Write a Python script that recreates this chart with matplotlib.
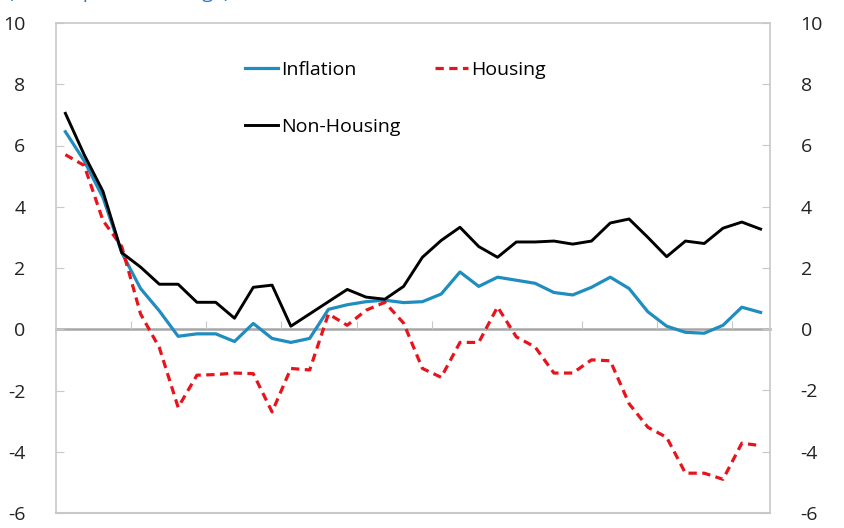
import matplotlib
matplotlib.use('Agg')
import matplotlib.pyplot as plt
import numpy as np

plt.rcParams['font.family'] = ['Open Sans', 'DejaVu Sans']
plt.rcParams['font.size'] = 14
plt.rcParams['axes.unicode_minus'] = False

# quarterly observations, 38 periods
inflation = [6.45, 5.5, 4.3, 2.5, 1.33, 0.6, -0.23, -0.15, -0.15, -0.4,
             0.19, -0.3, -0.43, -0.3, 0.65, 0.8, 0.9, 0.95, 0.87, 0.9,
             1.15, 1.87, 1.4, 1.7, 1.6, 1.5, 1.2, 1.12, 1.37, 1.7,
             1.33, 0.57, 0.1, -0.1, -0.13, 0.13, 0.72, 0.55]
housing = [5.7, 5.35, 3.55, 2.7, 0.5, -0.6, -2.55, -1.5, -1.48, -1.43,
           -1.45, -2.7, -1.28, -1.33, 0.5, 0.13, 0.62, 0.88, 0.2, -1.28,
           -1.57, -0.43, -0.43, 0.73, -0.25, -0.58, -1.43, -1.43, -1.0, -1.03,
           -2.43, -3.2, -3.53, -4.7, -4.7, -4.9, -3.72, -3.8]
non_housing = [7.05, 5.7, 4.5, 2.5, 2.03, 1.47, 1.47, 0.88, 0.88, 0.36,
               1.37, 1.44, 0.1, 0.5, 0.9, 1.3, 1.05, 0.98, 1.4, 2.35,
               2.9, 3.33, 2.7, 2.35, 2.85, 2.85, 2.88, 2.78, 2.88, 3.47,
               3.6, 3.0, 2.37, 2.88, 2.8, 3.3, 3.5, 3.27]

yticks = [-6, -4, -2, 0, 2, 4, 6, 8, 10]

x = np.arange(len(inflation))
grey = '#c8c8c8'

fig = plt.figure(figsize=(8.45, 5.28), dpi=100)
ax = fig.add_axes([56 / 845, 1 - 513 / 528, 714 / 845, 490 / 528])

l_inf, = ax.plot(x, inflation, color='#1f8dbf', lw=2.3, label='Inflation')
l_hou, = ax.plot(x, housing, color='#e8141c', lw=2.3, dashes=(2.6, 1.7), label='Housing')
l_non, = ax.plot(x, non_housing, color='black', lw=2.1, label='Non-Housing')

ax.set_xlim(-0.5, len(x) - 0.5)
ax.set_ylim(-6, 10)
ax.set_yticks(yticks)

# zero line acts as category axis
ax.spines['bottom'].set_position(('data', 0))
ax.spines['bottom'].set_color('#a6a6a6')
ax.spines['bottom'].set_linewidth(1.8)
ax.spines['bottom'].set_zorder(1)
ax.set_xticks(np.arange(4, len(x), 4) - 0.5)
ax.tick_params(axis='x', direction='in', length=6, color=grey, labelbottom=False)
ax.axhline(-6, color=grey, lw=1.5, clip_on=False)
for s in ['left', 'top', 'right']:
    ax.spines[s].set_color(grey)
    ax.spines[s].set_linewidth(1.2)
ax.tick_params(axis='y', direction='in', length=6, color=grey, labelcolor='#222222', pad=22)

ax2 = ax.twinx()
ax2.set_ylim(-6, 10)
ax2.set_yticks(yticks)
ax2.tick_params(axis='y', direction='in', length=6, color=grey, labelcolor='#222222', pad=22)
for s in ax2.spines.values():
    s.set_visible(False)

ax.legend(handles=[l_inf, l_non, l_hou], ncol=2, frameon=False,
          loc='upper left', bbox_to_anchor=(245 / 845, 1 - 61 / 528),
          bbox_transform=fig.transFigure, borderpad=0, borderaxespad=0,
          handlelength=1.7, handletextpad=0.15, labelspacing=2.0,
          columnspacing=1.8, fontsize=14)

fig.text(8 / 845, 1 + 2 / 528, '(Annual percent change)', color='#2878c8',
         fontsize=14, va='baseline', ha='left')

fig.savefig('out.png', dpi=100)
